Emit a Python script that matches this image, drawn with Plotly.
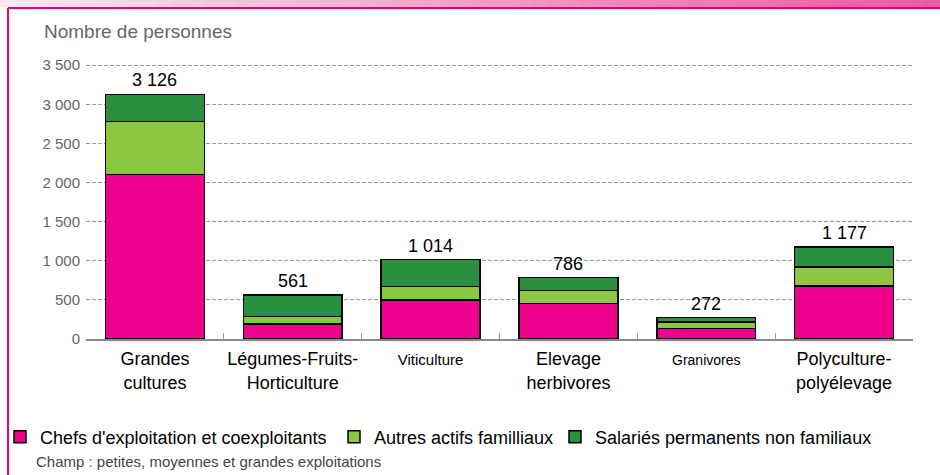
import plotly.graph_objects as go

categories = ["Grandes cultures", "Légumes-Fruits-Horticulture", "Viticulture",
              "Elevage herbivores", "Granivores", "Polyculture-polyélevage"]
category_labels = ["Grandes<br>cultures", "Légumes-Fruits-<br>Horticulture",
                   "<span style='font-size:15px'>Viticulture</span>",
                   "Elevage<br>herbivores",
                   "<span style='font-size:14px'>Granivores</span>",
                   "Polyculture-<br>polyélevage"]
chefs = [2100, 190, 500, 455, 135, 675]
autres = [680, 100, 174, 165, 80, 245]
salaries = [346, 271, 340, 166, 57, 257]
series_names = ["Chefs d'exploitation et coexploitants", "Autres actifs familliaux",
                "Salariés permanents non familiaux"]
y_tickvals = [0, 500, 1000, 1500, 2000, 2500, 3000, 3500]
y_ticktext = ["0", "500", "1 000", "1 500", "2 000", "2 500", "3 000", "3 500"]

W, H = 940, 475
ML, MR, MT, MB = 86, 27, 62, 136
PW, PH = W - ML - MR, H - MT - MB

def px(x):
    return (x - ML) / PW

def py(y):
    return (H - MB - y) / PH

FONT = "Liberation Sans, Arial, sans-serif"
colors = ["#EC008C", "#8DC63F", "#2A9040"]
legend_ids = ["legend", "legend2", "legend3"]
legend_x = [-4, 334, 555]

fig = go.Figure()
for name, vals, col, lid in zip(series_names, [chefs, autres, salaries], colors, legend_ids):
    fig.add_trace(go.Bar(x=categories, y=vals, name=name, legend=lid,
                         marker=dict(color=col, line=dict(color="black", width=1.5))))

totals = [a + b + c for a, b, c in zip(chefs, autres, salaries)]
for cat, t in zip(categories, totals):
    fig.add_annotation(x=cat, y=t, text=f"{t:,}".replace(",", " "), showarrow=False,
                       yanchor="bottom", yshift=2,
                       font=dict(family=FONT, size=18, color="black"))

fig.add_annotation(xref="paper", yref="paper", x=px(34), y=py(461),
                   xanchor="left", yanchor="middle", showarrow=False,
                   text="Champ : petites, moyennes et grandes exploitations",
                   font=dict(family=FONT, size=15, color="#444"))

# decorative header band + frame
shapes = []
n = 60
c0 = (252, 232, 241)
c1 = (236, 90, 158)
for i in range(n):
    t = i / (n - 1)
    c = tuple(int(c0[k] + (c1[k] - c0[k]) * t) for k in range(3))
    shapes.append(dict(type="rect", xref="paper", yref="paper",
                       x0=px(W * i / n), x1=px(W * (i + 1) / n + 1),
                       y0=py(7), y1=py(0), line=dict(width=0),
                       fillcolor="rgb(%d,%d,%d)" % c, layer="below"))
shapes.append(dict(type="line", xref="paper", yref="paper", x0=px(8), x1=px(W),
                   y0=py(8), y1=py(8), line=dict(color="#E5007E", width=2)))
shapes.append(dict(type="line", xref="paper", yref="paper", x0=px(8), x1=px(8),
                   y0=py(8), y1=py(H), line=dict(color="#E5007E", width=2)))

legend_common = dict(orientation="h", xref="container", yref="container",
                     y=1 - 437 / H, xanchor="left", yanchor="middle",
                     font=dict(family=FONT, size=18, color="black"),
                     itemwidth=30, bgcolor="rgba(0,0,0,0)")
layout_legends = {lid: dict(legend_common, x=lx / W) for lid, lx in zip(legend_ids, legend_x)}

fig.update_layout(
    width=W, height=H, barmode="stack", bargap=0.284,
    margin=dict(l=ML, r=MR, t=MT, b=MB, autoexpand=False),
    paper_bgcolor="white", plot_bgcolor="white",
    font=dict(family=FONT, color="black"),
    shapes=shapes,
    title=dict(text="Nombre de personnes", xref="container", yref="container",
               x=44 / W, y=1 - 31 / H, xanchor="left", yanchor="middle",
               pad=dict(l=0, r=0, t=0, b=0),
               font=dict(family=FONT, size=19, color="#666")),
    showlegend=True,
    **layout_legends,
)
fig.update_xaxes(tickvals=categories, ticktext=category_labels, tickangle=0,
                 automargin=False, ticklabelstandoff=3,
                 showline=True, linecolor="#888", linewidth=1.5,
                 ticks="inside", tickson="boundaries", ticklen=6, tickcolor="#999",
                 tickfont=dict(family=FONT, size=18, color="black"),
                 showgrid=False)
fig.update_yaxes(range=[0, 3540], tickvals=y_tickvals, ticktext=y_ticktext,
                 automargin=False,
                 showgrid=True, gridcolor="#999", gridwidth=1, griddash="4px,2px",
                 zeroline=False, showline=False, ticks="", ticklabelstandoff=5,
                 tickfont=dict(family=FONT, size=15, color="#666"))

fig.write_html("out.html", config={"displayModeBar": False},
               post_script="document.body.style.margin='0';")
